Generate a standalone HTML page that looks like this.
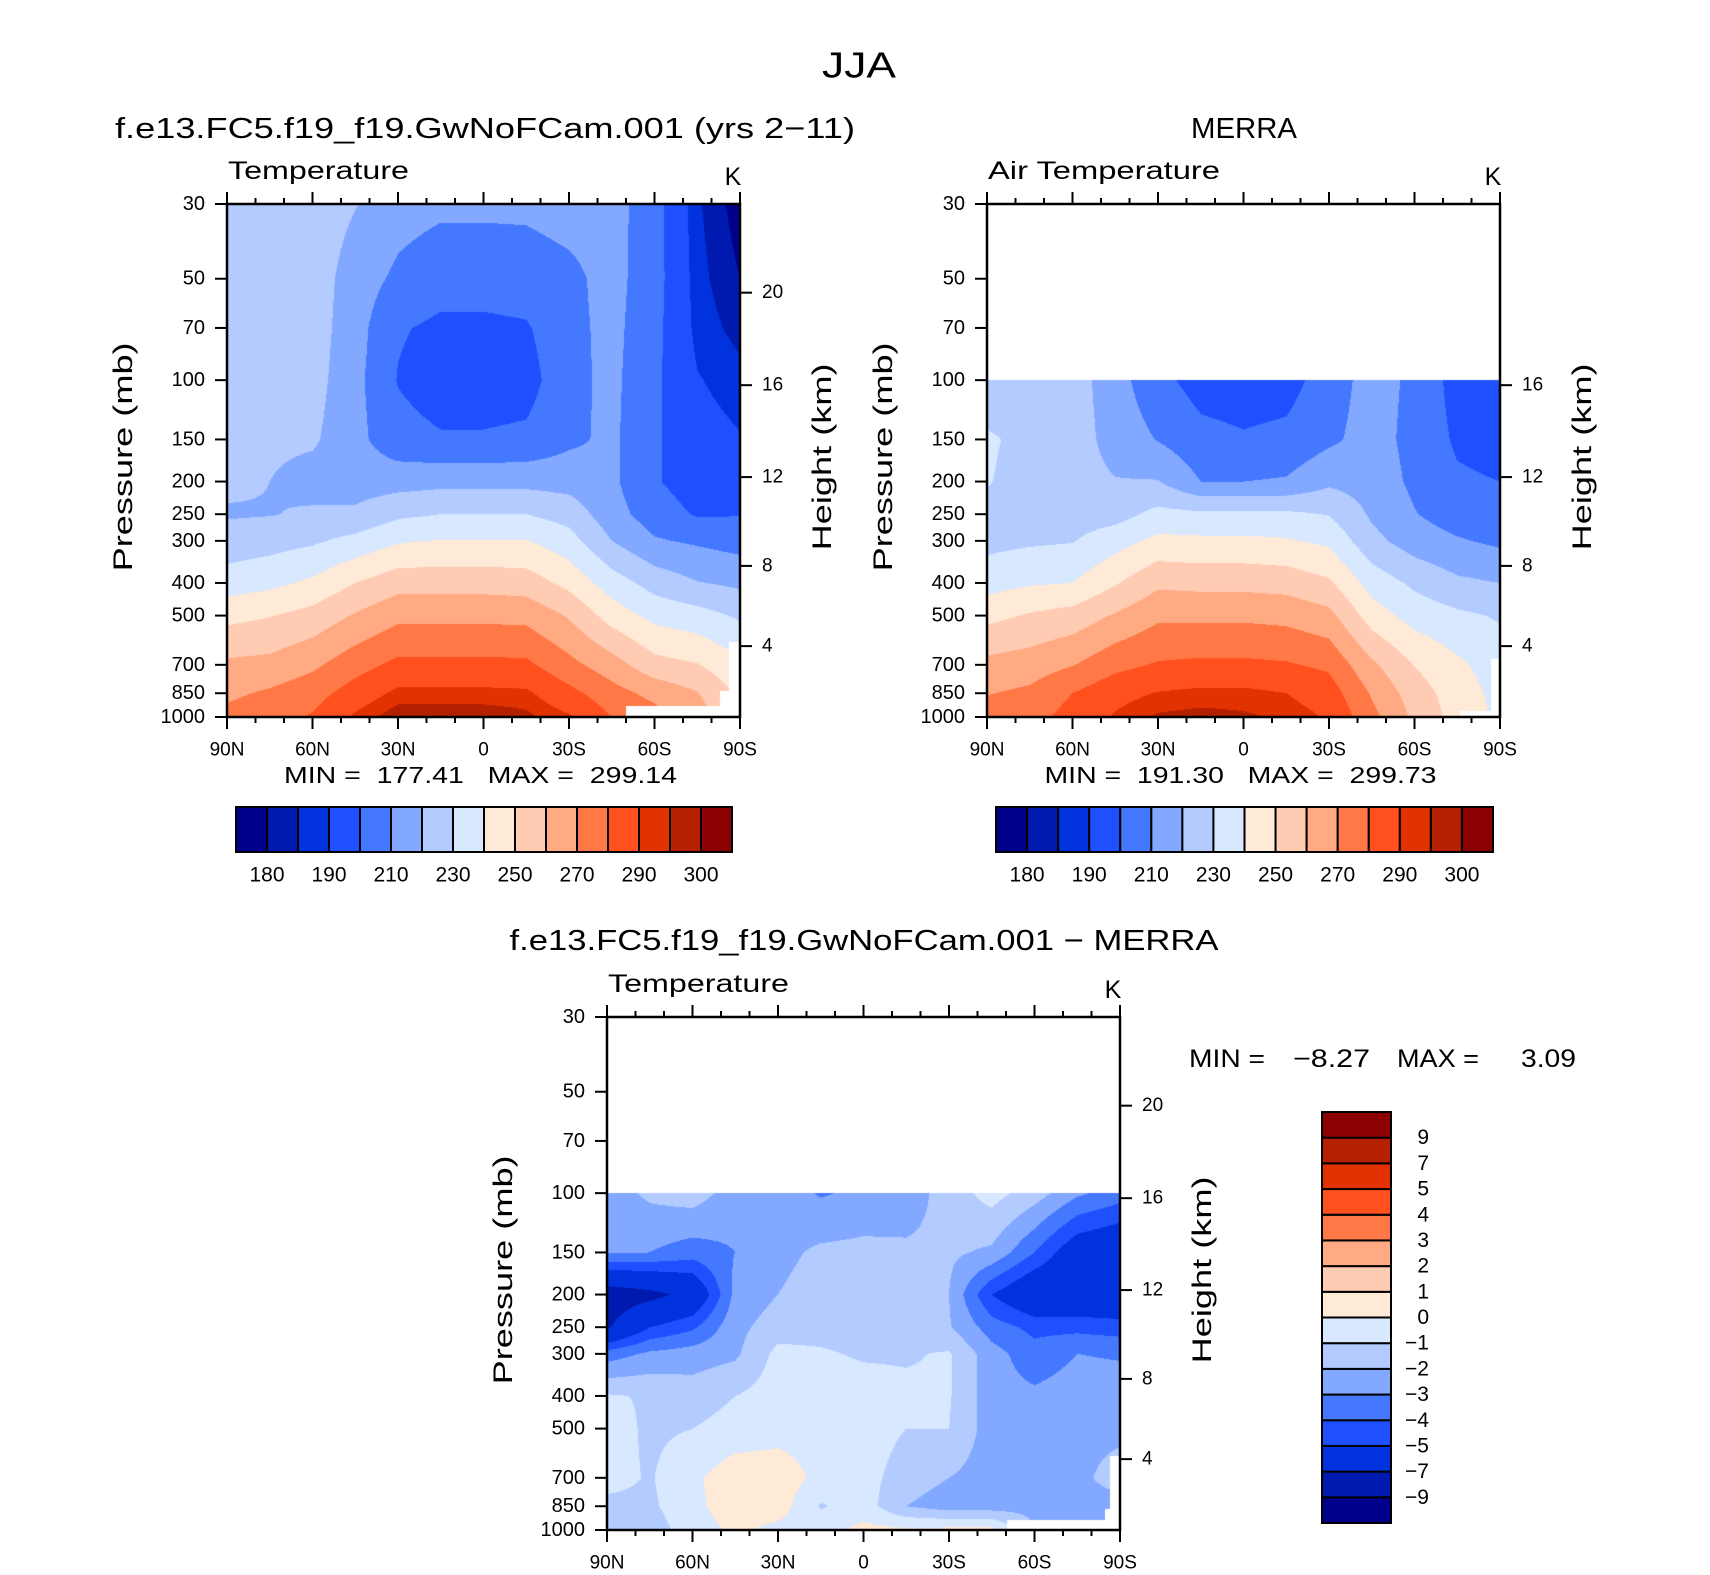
<!DOCTYPE html>
<html><head><meta charset="utf-8">
<style>
html,body{margin:0;padding:0;background:#fff;}
#wrap{position:relative;width:1710px;height:1575px;overflow:hidden;background:#fff;font-family:"Liberation Sans",sans-serif;}
canvas{position:absolute;}
#ov{position:absolute;left:0;top:0;}
</style></head>
<body>
<div id="wrap">
<canvas id="c1" style="left:227px;top:204px" width="513" height="513"></canvas>
<canvas id="c2" style="left:987px;top:204px" width="513" height="513"></canvas>
<canvas id="c3" style="left:607px;top:1017px" width="513" height="513"></canvas>
<svg id="ov" width="1710" height="1575" xmlns="http://www.w3.org/2000/svg"></svg>
</div>
<script>
// ---------- data ----------
const lats = [90,75,60,45,30,15,0,-15,-30,-45,-60,-75,-90];
const presModel = [30,50,70,100,150,200,250,300,400,500,700,850,1000];
const tempModel = [
[225,225,226,220.5,214,212,212,212,214,214,204,186,177],
[225,224.5,225.5,215,208,204,204,205,207.5,213.5,204,187,180],
[224.5,224,225,214,201,198,198,199,207,213,203,188,183],
[224,223.5,224,213,199.5,195,195,196,207,212.5,202,190.5,187],
[223,222,221.5,213,203.5,201,201,202,208,212,201.5,193,190.5],
[222,220,216,215,216,217,217,217,216,212,201,195,193],
[219,219.5,221.5,222,228,230,230,230,226,214,205,199,199.5],
[224,226,228.5,233,239,240.5,240.5,240.5,234,220,211,208.5,206],
[235,237.5,242,250,256,256,256,255,247,235,226,220.5,218],
[247,249.5,253.5,261,267.5,267.5,267.5,267,259,245.5,237,234,228.5],
[262,263,268,276,282.5,282.5,282.5,282,273,264.5,253.5,250.5,242],
[268,271.5,276,284.5,292,292,292,291.5,283,274,267,260.5,248],
[273,276,281,291.5,298.5,298.5,298.5,296.5,291,280,274,265,252]];
const presMerra = [100,150,200,250,300,400,500,700,850,1000];
const tempMerra = [
[225,226,225,214,203,196,195,196,205,214,208,196,193],
[231,228,225,216,209.5,203,201,202.5,208,214,207,198.5,196],
[230.5,227,224,220.5,220.5,210,210,211,218,215.5,208,201.5,200],
[228,227,225,226,233,232,232,232,229.5,218.5,210.5,205,204],
[227,228.5,229.5,236,242.5,242,242,241,238,223,215,211,208],
[236,239,240,249,258,257,257,256,251.5,236,228,222,220],
[247,251,254,261,268,268,268,267,263,245,236,232,229],
[263,265,269.5,277,281,282,282,281,278,262,249.5,242,235],
[269.5,272,280,287,290.5,292,292,290,285,269,255,245,237],
[274,276,284,291,296,297,296,294,289,273,258,246,238]];
const presDiff = [100,150,200,250,300,400,500,700,850,1000];
const tempDiff = [
[-2.5,-1.8,-1.5,-2.5,-2.5,-3.1,-2.8,-2.6,-1.5,-0.6,-1.5,-2.8,-3.5],
[-2.9,-3,-3.5,-3,-2.3,-1.8,-1.7,-1.8,-1.8,-2.2,-4,-6,-6.5],
[-8,-7.5,-6.5,-2.7,-2,-1.5,-1.5,-1.5,-2,-5,-6.5,-6.5,-6.5],
[-7.2,-5,-4.2,-2.3,-1.5,-1.3,-1.3,-1.2,-1.9,-3.5,-4.3,-4.3,-4.5],
[-3.5,-2.8,-2.5,-2.2,-0.7,-0.9,-1.1,-1.1,-0.9,-2.6,-3.6,-3,-3.1],
[-0.9,-1.1,-1.5,-1,-0.5,-0.5,-0.6,-0.8,-0.9,-2.6,-2.8,-2.5,-2.5],
[-0.5,-1.2,-1,-0.6,-0.4,-0.4,-0.5,-1,-1,-2.5,-2.9,-2.3,-2.3],
[-0.6,-1.1,-0.2,0.6,0.6,-0.3,-0.6,-1.5,-2,-2.5,-2.5,-2.3,-1.5],
[-1.3,-1.2,-0.3,0.6,0.5,-1.1,-0.5,-2,-2.5,-2.5,-2.3,-2.3,-2.5],
[-1.5,-1.5,-0.5,0.2,-0.3,-0.4,0.3,0.2,0.3,0.3,-2,-3,-3]];
// missing-data masks: [latFrom, latTo, pressure beyond which data is missing]
const maskModel = [[-50,-90,930],[-83,-90,840],[-86.3,-90,600]];
const maskMerra = [[-76,-90,960],[-87,-90,675]];
const maskDiff = [[-50.3,-90,935],[-84.8,-90,867],[-86.4,-90,604]];
const levelsT = [180,185,190,200,210,220,230,240,250,260,270,280,290,295,300];
const levelsD = [-9,-7,-5,-4,-3,-2,-1,0,1,2,3,4,5,7,9];
const labelsT = ['','180','','190','','210','','230','','250','','270','','290','','300'];
const colors = ['#00008a','#001aaf','#0033dd','#1e50ff','#4478ff','#82a8ff','#b3cbff','#d7e8ff','#ffe9d7','#ffcbb2','#ffaa82','#ff7845','#ff501e','#e23200','#b42000','#8b0000'];
const presTicks = [30,50,70,100,150,200,250,300,400,500,700,850,1000];
const kmTicks = [4,8,12,16,20];
const kmPres = [616,356,194,103.5,55];
const latTicks = [90,80,70,60,50,40,30,20,10,0,-10,-20,-30,-40,-50,-60,-70,-80,-90];
const latMajor = {90:'90N',60:'60N',30:'30N',0:'0','-30':'30S','-60':'60S','-90':'90S'};

// ---------- scales ----------
const PTOP=30, PBOT=1000;
function yOf(p,y0,H){return y0+Math.log(p/PTOP)/Math.log(PBOT/PTOP)*H;}
function xOf(lat,x0,W){return x0+(90-lat)/180*W;}
function hex(c){return [parseInt(c.substr(1,2),16),parseInt(c.substr(3,2),16),parseInt(c.substr(5,2),16)];}
const rgb = colors.map(hex);

function render(id,pres,grid,levels,mask){
  const cv=document.getElementById(id),ctx=cv.getContext('2d');
  const W=cv.width,H=cv.height,img=ctx.createImageData(W,H),d=img.data;
  const lp=pres.map(p=>Math.log(p));
  for(let py=0;py<H;py++){
    const p=PTOP*Math.pow(PBOT/PTOP,(py+0.5)/H), l=Math.log(p);
    let k=-1;
    for(let j=0;j<lp.length-1;j++){ if(l>=lp[j]&&l<=lp[j+1]){k=j;break;} }
    if(l>lp[lp.length-1]) k=lp.length-2;
    for(let px=0;px<W;px++){
      const o=(py*W+px)*4;
      const lat=90-(px+0.5)/W*180;
      let white = (k<0);
      for(const m of mask){ if(lat<=m[0]&&lat>=m[1]&&p>=m[2]) white=true; }
      if(white){d[o]=d[o+1]=d[o+2]=255;d[o+3]=255;continue;}
      const fx=(px+0.5)/W*(lats.length-1); let i=Math.min(Math.floor(fx),lats.length-2); const t=fx-i;
      const s=Math.min(1,Math.max(0,(l-lp[k])/(lp[k+1]-lp[k])));
      const v=(grid[k][i]*(1-t)+grid[k][i+1]*t)*(1-s)+(grid[k+1][i]*(1-t)+grid[k+1][i+1]*t)*s;
      let c=0; while(c<levels.length&&v>=levels[c]) c++;
      d[o]=rgb[c][0];d[o+1]=rgb[c][1];d[o+2]=rgb[c][2];d[o+3]=255;
    }
  }
  ctx.putImageData(img,0,0);
}
render('c1',presModel,tempModel,levelsT,maskModel);
render('c2',presMerra,tempMerra,levelsT,maskMerra);
render('c3',presDiff,tempDiff,levelsD,maskDiff);

// ---------- overlay ----------
const NS='http://www.w3.org/2000/svg', svg=document.getElementById('ov');
function el(tag,attrs,parent){const e=document.createElementNS(NS,tag);for(const k in attrs)e.setAttribute(k,attrs[k]);(parent||svg).appendChild(e);return e;}
function txt(s,x,y,size,anchor,len,parent){
  const a={x:x,y:y,'font-size':size,'text-anchor':anchor||'middle','dominant-baseline':'central','font-family':'Liberation Sans, sans-serif',fill:'#000'};
  if(len){a.textLength=len;a.lengthAdjust='spacingAndGlyphs';}
  const t=el('text',a,parent);t.textContent=s;return t;
}
function axes(name,x0,y0,W,H,kmList,subLeft,subLeftLen,minmax,mmLen){
  const g=el('g',{});
  
  
  el('rect',{x:x0,y:y0,width:W,height:H,fill:'none',stroke:'#000','stroke-width':2.5},g);
  presTicks.forEach(p=>{
    const y=yOf(p,y0,H);
    el('line',{x1:x0-12,y1:y,x2:x0,y2:y,stroke:'#000','stroke-width':2},g);
    const t=txt(String(p),x0-22,y,20,'end',null,g);
    
    
  });
  latTicks.forEach(lat=>{
    const x=xOf(lat,x0,W), maj=(lat%30===0), L=maj?12:6;
    el('line',{x1:x,y1:y0+H,x2:x,y2:y0+H+L,stroke:'#000','stroke-width':2},g);
    el('line',{x1:x,y1:y0,x2:x,y2:y0-L,stroke:'#000','stroke-width':2},g);
    if(maj){const t=txt(latMajor[lat],x,y0+H+33,19,'middle',null,g);
      
      }
  });
  kmTicks.forEach((km,i)=>{
    if(kmList.indexOf(km)<0) return;
    const y=yOf(kmPres[i],y0,H);
    el('line',{x1:x0+W,y1:y,x2:x0+W+12,y2:y,stroke:'#000','stroke-width':2},g);
    const t=txt(String(km),x0+W+22,y,19,'start',null,g);
    
    
  });
  const yt=txt('Pressure (mb)',0,0,27,'middle',229,g);
  yt.setAttribute('transform','translate('+(x0-104)+','+(y0+H*0.493)+') rotate(-90)');
  
  
  const ht=txt('Height (km)',0,0,27,'middle',187,g);
  ht.setAttribute('transform','translate('+(x0+W+82)+','+(y0+H*0.493)+') rotate(-90)');
  
  
  const st=txt(subLeft,x0+1,y0-33,25,'start',subLeftLen,g);
  
  
  const kt=txt('K',x0+W-7,y0-27,25,'middle',null,g);
  
  
  if(minmax){const m=txt(minmax,x0+W/2-3,y0+H+58,23,'middle',mmLen,g);
    
    }
}
const sp='\u00a0';
axes('model',227,204,513,513,[4,8,12,16,20],'Temperature',181,'MIN'+sp+'='+sp+sp+'177.41'+sp+sp+sp+'MAX'+sp+'='+sp+sp+'299.14',393);
axes('merra',987,204,513,513,[4,8,12,16],'Air Temperature',232,'MIN'+sp+'='+sp+sp+'191.30'+sp+sp+sp+'MAX'+sp+'='+sp+sp+'299.73',392);
axes('diff',607,1017,513,513,[4,8,12,16,20],'Temperature',181,null,null);

function hbar(name,x0,y0,W,H){
  const g=el('g',{});
  
  
  const bw=W/colors.length;
  colors.forEach((c,i)=>{
    const r=el('rect',{x:x0+i*bw,y:y0,width:bw,height:H,fill:c,stroke:'#000','stroke-width':2},g);
    
    
    if(labelsT[i]){const t=txt(labelsT[i],x0+i*bw,y0+H+23,21,'middle',null,g);
      
      }
  });
}
hbar('colorbar-model',236,807,496,45);
hbar('colorbar-merra',996,807,497,45);
(function(){
  const g=el('g',{});
  
  
  const x0=1322,y0=1112,W=69,H=411,bh=H/colors.length;
  colors.forEach((c,i)=>{
    const y=y0+H-(i+1)*bh;
    const r=el('rect',{x:x0,y:y,width:W,height:bh,fill:c,stroke:'#000','stroke-width':2},g);
    
    
    if(i<levelsD.length){
      const v=levelsD[i], s=(v<0?'\u2212'+(-v):String(v));
      const t=txt(s,1429,y,21,'end',null,g);
      
      
    }
  });
})();

let t;
t=txt('JJA',859,65,36,'middle',74);


t=txt('f.e13.FC5.f19_f19.GwNoFCam.001 (yrs 2\u221211)',485,129,29,'middle',740);


t=txt('MERRA',1244,129,29,'middle',106);


t=txt('f.e13.FC5.f19_f19.GwNoFCam.001 \u2212 MERRA',864,941,29,'middle',709);


t=txt('MIN'+sp+'=',1189,1059,25,'start',76);


t=txt('\u22128.27',1293,1059,25,'start',77);


t=txt('MAX'+sp+'=',1397,1059,25,'start',82);


t=txt('3.09',1576,1059,25,'end',55);


</script>
</body></html>
